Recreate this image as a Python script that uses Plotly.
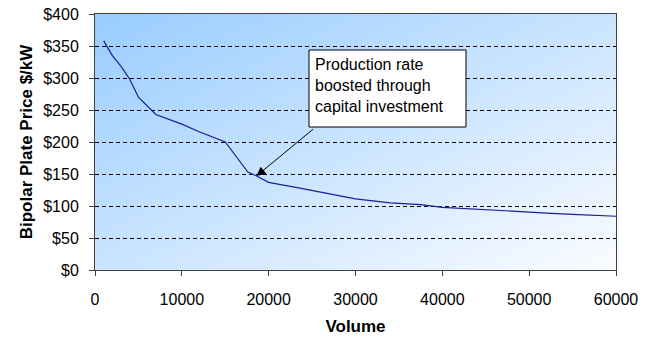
import base64
import plotly.graph_objects as go

volume = [1000, 2000, 3000, 4000, 5000, 7000, 10000, 12000, 15000, 17600, 18600,
          20000, 23600, 27000, 30000, 34000, 37500, 40000, 45000, 48500, 52000, 55000, 60000]
price = [358, 335, 318, 298, 270, 243, 228, 216, 200, 153, 147,
         137, 128, 119, 111, 105, 102, 98, 94, 91, 89, 87, 84]

y_ticks = [0, 50, 100, 150, 200, 250, 300, 350, 400]
x_ticks = [0, 10000, 20000, 30000, 40000, 50000, 60000]

note_lines = ["Production rate", "boosted through", "capital investment"]

FONT = "Arial, Liberation Sans, sans-serif"

svg = ('<svg xmlns="http://www.w3.org/2000/svg" width="100" height="100" viewBox="0 0 100 100" '
       'preserveAspectRatio="none"><defs><linearGradient id="g" x1="0" y1="0" x2="1" y2="1">'
       '<stop offset="0" stop-color="#99ccff"/><stop offset="1" stop-color="#fafcff"/>'
       '</linearGradient></defs><rect width="100" height="100" fill="url(#g)"/></svg>')
bg_src = "data:image/svg+xml;base64," + base64.b64encode(svg.encode()).decode()

fig = go.Figure()
fig.add_trace(go.Scatter(x=volume, y=price, mode="lines",
                         line=dict(color="#1c1c96", width=1.2), hoverinfo="skip",
                         showlegend=False))

fig.add_layout_image(dict(source=bg_src, xref="paper", yref="paper", x=0, y=1,
                          sizex=1, sizey=1, sizing="stretch", layer="below",
                          xanchor="left", yanchor="top"))

# annotation box
fig.add_shape(type="rect", xref="x", yref="y", x0=24645, x1=42727, y0=223.4, y1=343.75,
              line=dict(color="black", width=1), fillcolor="white", layer="above")
fig.add_annotation(x=25106, y=288.5, xref="x", yref="y", xanchor="left", yanchor="middle",
                   text="<br>".join(note_lines), showarrow=False, align="left",
                   font=dict(family=FONT, size=16, color="black"))
fig.add_annotation(x=18600, y=147, xref="x", yref="y", axref="x", ayref="y",
                   ax=25300, ay=222, text="", showarrow=True, arrowhead=2,
                   arrowsize=1.8, arrowwidth=1, arrowcolor="black")

fig.update_layout(
    width=657, height=339,
    margin=dict(l=95, r=41, t=14, b=69, autoexpand=False),
    paper_bgcolor="white", plot_bgcolor="rgba(0,0,0,0)",
    font=dict(family=FONT, size=16, color="black"),
    xaxis=dict(range=[0, 60000], tickvals=x_ticks, ticktext=[str(v) for v in x_ticks],
               showgrid=False, zeroline=False, showline=True, linecolor="#404040",
               linewidth=1, mirror=True, ticks="outside", ticklen=5, tickcolor="#404040",
               ticklabelstandoff=10, automargin=False,
               title=dict(text="<b>Volume</b>", standoff=12,
                          font=dict(family=FONT, size=17))),
    yaxis=dict(range=[0, 400], tickvals=y_ticks, ticktext=["$" + str(v) for v in y_ticks],
               showgrid=True, gridcolor="black", gridwidth=1, griddash="4px,3px",
               zeroline=False, showline=True, linecolor="#404040", linewidth=1, mirror=True,
               ticks="outside", ticklen=5, tickcolor="#404040", ticklabelstandoff=7,
               automargin=False,
               title=dict(text="<b>Bipolar Plate Price $/kW</b>", standoff=6,
                          font=dict(family=FONT, size=17))),
)

fig.write_html("out.html", config={"displayModeBar": False},
               post_script="document.body.style.margin='0';")
